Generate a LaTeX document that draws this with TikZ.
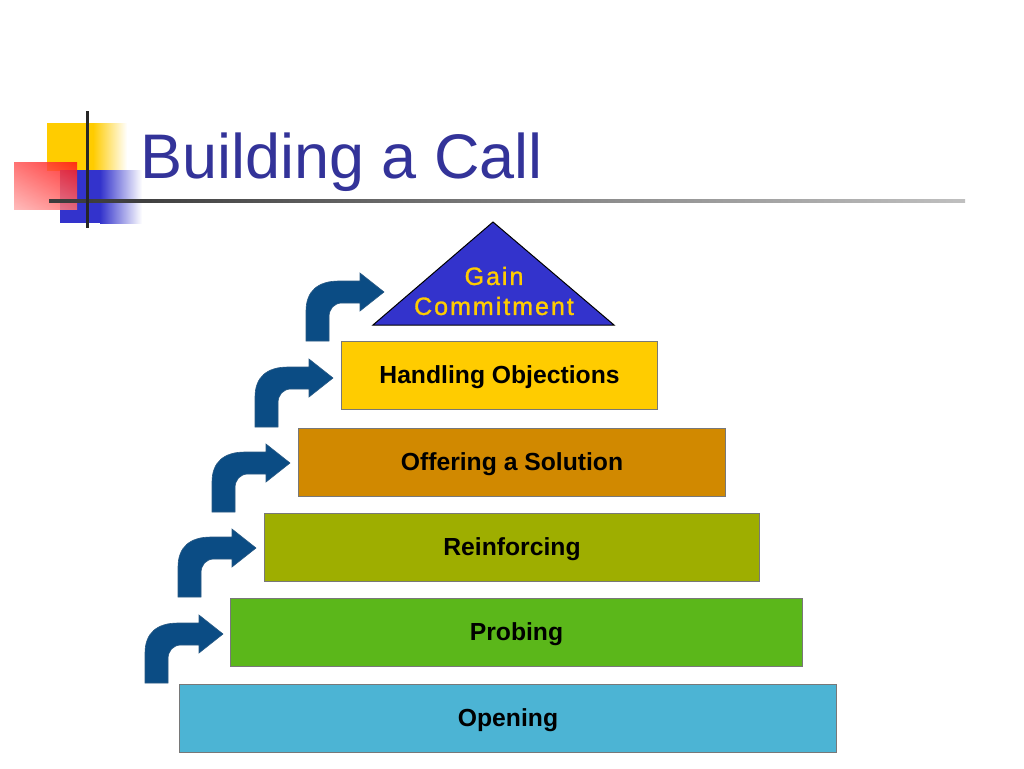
\documentclass[tikz,border=0pt]{standalone}
\usepackage{fontspec}
\setmainfont{Liberation Sans}
\usetikzlibrary{shadings}
\definecolor{titleblue}{RGB}{51,51,153}
\definecolor{logoyellow}{RGB}{255,204,0}
\definecolor{logoblue}{RGB}{51,51,204}
\definecolor{triblue}{RGB}{51,51,204}
\definecolor{gaintext}{RGB}{255,204,0}
\definecolor{arrowblue}{RGB}{11,76,132}
\definecolor{boxgray}{RGB}{120,120,120}
\definecolor{cHandling}{RGB}{255,204,0}
\definecolor{cOffering}{RGB}{209,137,0}
\definecolor{cReinforcing}{RGB}{158,174,0}
\definecolor{cProbing}{RGB}{91,183,26}
\definecolor{cOpening}{RGB}{76,180,212}
\definecolor{redUR}{RGB}{255,20,20}
\definecolor{redUL}{RGB}{255,90,90}
\definecolor{redLL}{RGB}{255,175,175}
\definecolor{redLR}{RGB}{255,110,110}
\pgfdeclarehorizontalshading{hlinefade}{100bp}{color(0bp)=(black!85); color(30bp)=(black!75); color(55bp)=(black!45); color(80bp)=(black!20); color(100bp)=(white)}
\tikzset{
  bentarrow/.pic={
    \path[fill=arrowblue, draw=arrowblue!75!gray, line width=0.6pt]
      (0,0) -- (0,-30) .. controls (0,-50) and (12,-60) .. (33,-60)
      -- (54,-60) -- (54,-68) -- (78,-49) -- (54,-30) -- (54,-38)
      -- (36,-38) .. controls (28,-38) and (23,-32) .. (23,-24)
      -- (23,0) -- cycle;
  },
  stepbox/.style={draw=boxgray, line width=1pt, minimum height=68pt, inner sep=0pt,
    text height=18pt, text depth=2pt,
    anchor=north west, text=black, font=\fontsize{24.7}{30}\selectfont\bfseries}
}
\begin{document}
\begin{tikzpicture}[x=1pt,y=-1pt]
\useasboundingbox (0,0) rectangle (1024,768);
% logo
\fill[logoyellow] (47,123) rectangle (93,171);
\shade[left color=logoyellow, right color=white] (93,123) rectangle (127,171);
\fill[logoblue] (60,170) rectangle (100,223);
\shade[left color=logoblue, right color=white] (100,170) rectangle (142,223);
\shade[opacity=0.85, upper right=redUR, upper left=redUL, lower left=redLL, lower right=redLR] (14,162) rectangle (77,209);
\shade[shading=hlinefade] (49,199.5) rectangle (965,202.5);
\draw[line width=3pt, black!85] (87,111) -- (87,228);
% title
\node[anchor=base west, inner sep=0pt, text=titleblue, font=\fontsize{63}{70}\selectfont] (title) at (140,178) {Building a Call};
% steps
\node[stepbox, fill=cOpening, minimum width=657pt] (opening) at (179,684) {Opening};
\node[stepbox, fill=cProbing, minimum width=572pt] (probing) at (230,598) {Probing};
\node[stepbox, fill=cReinforcing, minimum width=495pt] (reinforcing) at (264,513) {Reinforcing};
\node[stepbox, fill=cOffering, minimum width=427pt] (offering) at (298,428) {Offering a Solution};
\node[stepbox, fill=cHandling, minimum width=316pt] (handling) at (341,341) {Handling Objections};
% triangle
\draw[fill=triblue, line width=1pt, line join=miter] (493,222) -- (614,325) -- (373,325) -- cycle;
\node[align=center, text=gaintext, font=\fontsize{25}{30}\selectfont\addfontfeatures{LetterSpace=8,FakeBold=1.2}, inner sep=0pt] (gain) at (494,291) {Gain\\Commitment};
% arrows
\pic at (145,683) {bentarrow};
\pic at (178,597) {bentarrow};
\pic at (212,512) {bentarrow};
\pic at (255,427) {bentarrow};
\pic at (306,341) {bentarrow};
\end{tikzpicture}
\end{document}
